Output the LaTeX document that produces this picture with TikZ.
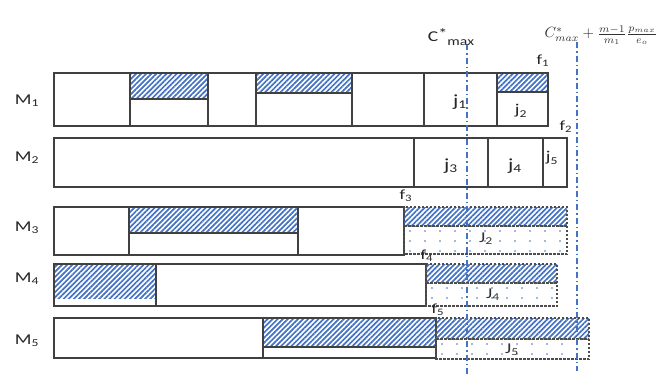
\documentclass[tikz,border=0pt]{standalone}
\usepackage{fontspec}
\usepackage{graphicx}
\setmainfont{Carlito}
\usetikzlibrary{patterns.meta}
\definecolor{hblue}{HTML}{4472C4}
\definecolor{edge}{HTML}{404040}
\newcommand{\wide}[1]{\scalebox{1.3}[1]{#1}}
\newcommand{\dotsarea}[4]{%
  \begin{scope}
    \clip (#1,#2) rectangle (#3,#4);
    \foreach \xx in {0,15,...,210}{
      \foreach \yy in {5,15,25}{
        \fill[hblue] (#1+\xx+6,#2+\yy) circle (0.9pt);
      }
    }
  \end{scope}}
\begin{document}
\begin{tikzpicture}[x=1pt,y=-1pt,
  box/.style={draw=edge,line width=1.2pt,fill=white},
  hatch/.style={pattern={Lines[angle=45,distance=3.6pt,line width=1.7pt]},pattern color=hblue},
  hbox/.style={hatch,draw=edge,line width=1.2pt},
  dbox/.style={draw=black!70,line width=1.1pt,dash pattern=on 2.5pt off 1.5pt},
  div/.style={draw=edge,line width=1.2pt},
  vline/.style={draw=hblue,line width=1.8pt,dash pattern=on 6pt off 3pt on 1.5pt off 3pt},
  mlab/.style={font=\fontsize{15}{17}\selectfont,inner sep=0pt,text=black!85},
  jlab/.style={font=\fontsize{17}{19}\selectfont,inner sep=0pt,text=black!85},
  jslab/.style={font=\fontsize{15}{17}\selectfont,inner sep=0pt,text=black!85},
  flab/.style={font=\fontsize{14}{16}\selectfont,inner sep=0pt,text=black!85},
  Jlab/.style={font=\fontsize{15}{17}\selectfont,inner sep=0pt,text=black!80}]
\useasboundingbox (0,0) rectangle (665,388);

% ---- M1 ----
\draw[box] (54,73) rectangle (548,126);
\draw[hbox] (130,73) rectangle (208,99);
\draw[hbox] (256,73) rectangle (352,93);
\draw[hbox] (497,73) rectangle (548,92);
\foreach \d in {130,208,256,352,424,497} \draw[div] (\d,73) -- (\d,126);
\draw[edge,line width=1.2pt] (54,73) rectangle (548,126);

% ---- M2 ----
\draw[box] (54,138) rectangle (567,187);
\foreach \d in {414,488,543} \draw[div] (\d,138) -- (\d,187);

% ---- M3 ----
\draw[box] (54,207) rectangle (404,255);
\draw[hbox] (129,207) rectangle (298,233);
\foreach \d in {129,298} \draw[div] (\d,207) -- (\d,255);
\fill[hatch] (404,207) rectangle (567,226);
\dotsarea{404}{226}{567}{254}
\draw[dbox] (404,207) rectangle (567,254);
\draw[dbox] (404,226) -- (567,226);

% ---- M4 ----
\draw[box] (54,264) rectangle (426,306);
\fill[hatch] (54,264) rectangle (156,298);
\draw[div] (156,264) -- (156,306);
\draw[edge,line width=1.2pt] (54,264) rectangle (426,306);
\fill[hatch] (426,264) rectangle (557,283);
\dotsarea{426}{283}{557}{306}
\draw[dbox] (426,264) rectangle (557,306);
\draw[dbox] (426,283) -- (557,283);

% ---- M5 ----
\draw[box] (54,318) rectangle (436,358);
\draw[hbox] (263,318) rectangle (436,347);
\draw[div] (263,318) -- (263,358);
\fill[hatch] (436,318) rectangle (589,339);
\dotsarea{436}{339}{589}{359}
\draw[dbox] (436,318) rectangle (589,359);
\draw[dbox] (436,339) -- (589,339);

% ---- vertical bounds ----
\coordinate (c1t) at (467,44);
\coordinate (c1b) at (467,376);
\coordinate (c2t) at (577,42);
\coordinate (c2b) at (577,371);
\draw[vline] (c1t) -- (c1b);
\draw[vline] (c2t) -- (c2b);

% ---- labels ----
\node[mlab] (m1) at (27,101) {\wide{M\textsubscript{1}}};
\node[mlab] (m2) at (27,158) {\wide{M\textsubscript{2}}};
\node[mlab] (m3) at (27,228) {\wide{M\textsubscript{3}}};
\node[mlab] (m4) at (27,279) {\wide{M\textsubscript{4}}};
\node[mlab] (m5) at (27,341) {\wide{M\textsubscript{5}}};

\node[jlab] (j1) at (460,102) {\wide{j\textsubscript{1}}};
\node[jslab] (j2) at (521,111) {\wide{j\textsubscript{2}}};
\node[jlab] (j3) at (451,166) {\wide{j\textsubscript{3}}};
\node[jlab] (j4) at (515,166) {\wide{j\textsubscript{4}}};
\node[jslab] (j5) at (552,158) {\wide{j\textsubscript{5}}};

\node[flab] (f1) at (543,61) {\wide{f\textsubscript{1}}};
\node[flab] (f2) at (566,127) {\wide{f\textsubscript{2}}};
\node[flab] (f3) at (406,196) {\wide{f\textsubscript{3}}};
\node[flab] (f4) at (427,256) {\wide{f\textsubscript{4}}};
\node[flab] (f5) at (438,310) {\wide{f\textsubscript{5}}};

\node[Jlab] (J2) at (486,239) {\wide{J\textsubscript{2}}};
\node[Jlab] (J4) at (493,295) {\wide{J\textsubscript{4}}};
\node[Jlab] (J5) at (512,350) {\wide{J\textsubscript{5}}};

\node[mlab] (cmax) at (451,37) {\wide{C\raisebox{3pt}{\fontsize{14}{14}\selectfont *}\raisebox{-4pt}{\fontsize{12}{12}\selectfont max}}};
\node[inner sep=0pt,text=black!80] (cbound) at (601,35) {\resizebox{113pt}{!}{$C^{*}_{max}+\frac{m-1}{m_1}\frac{p_{max}}{e_o}$}};
\end{tikzpicture}
\end{document}
